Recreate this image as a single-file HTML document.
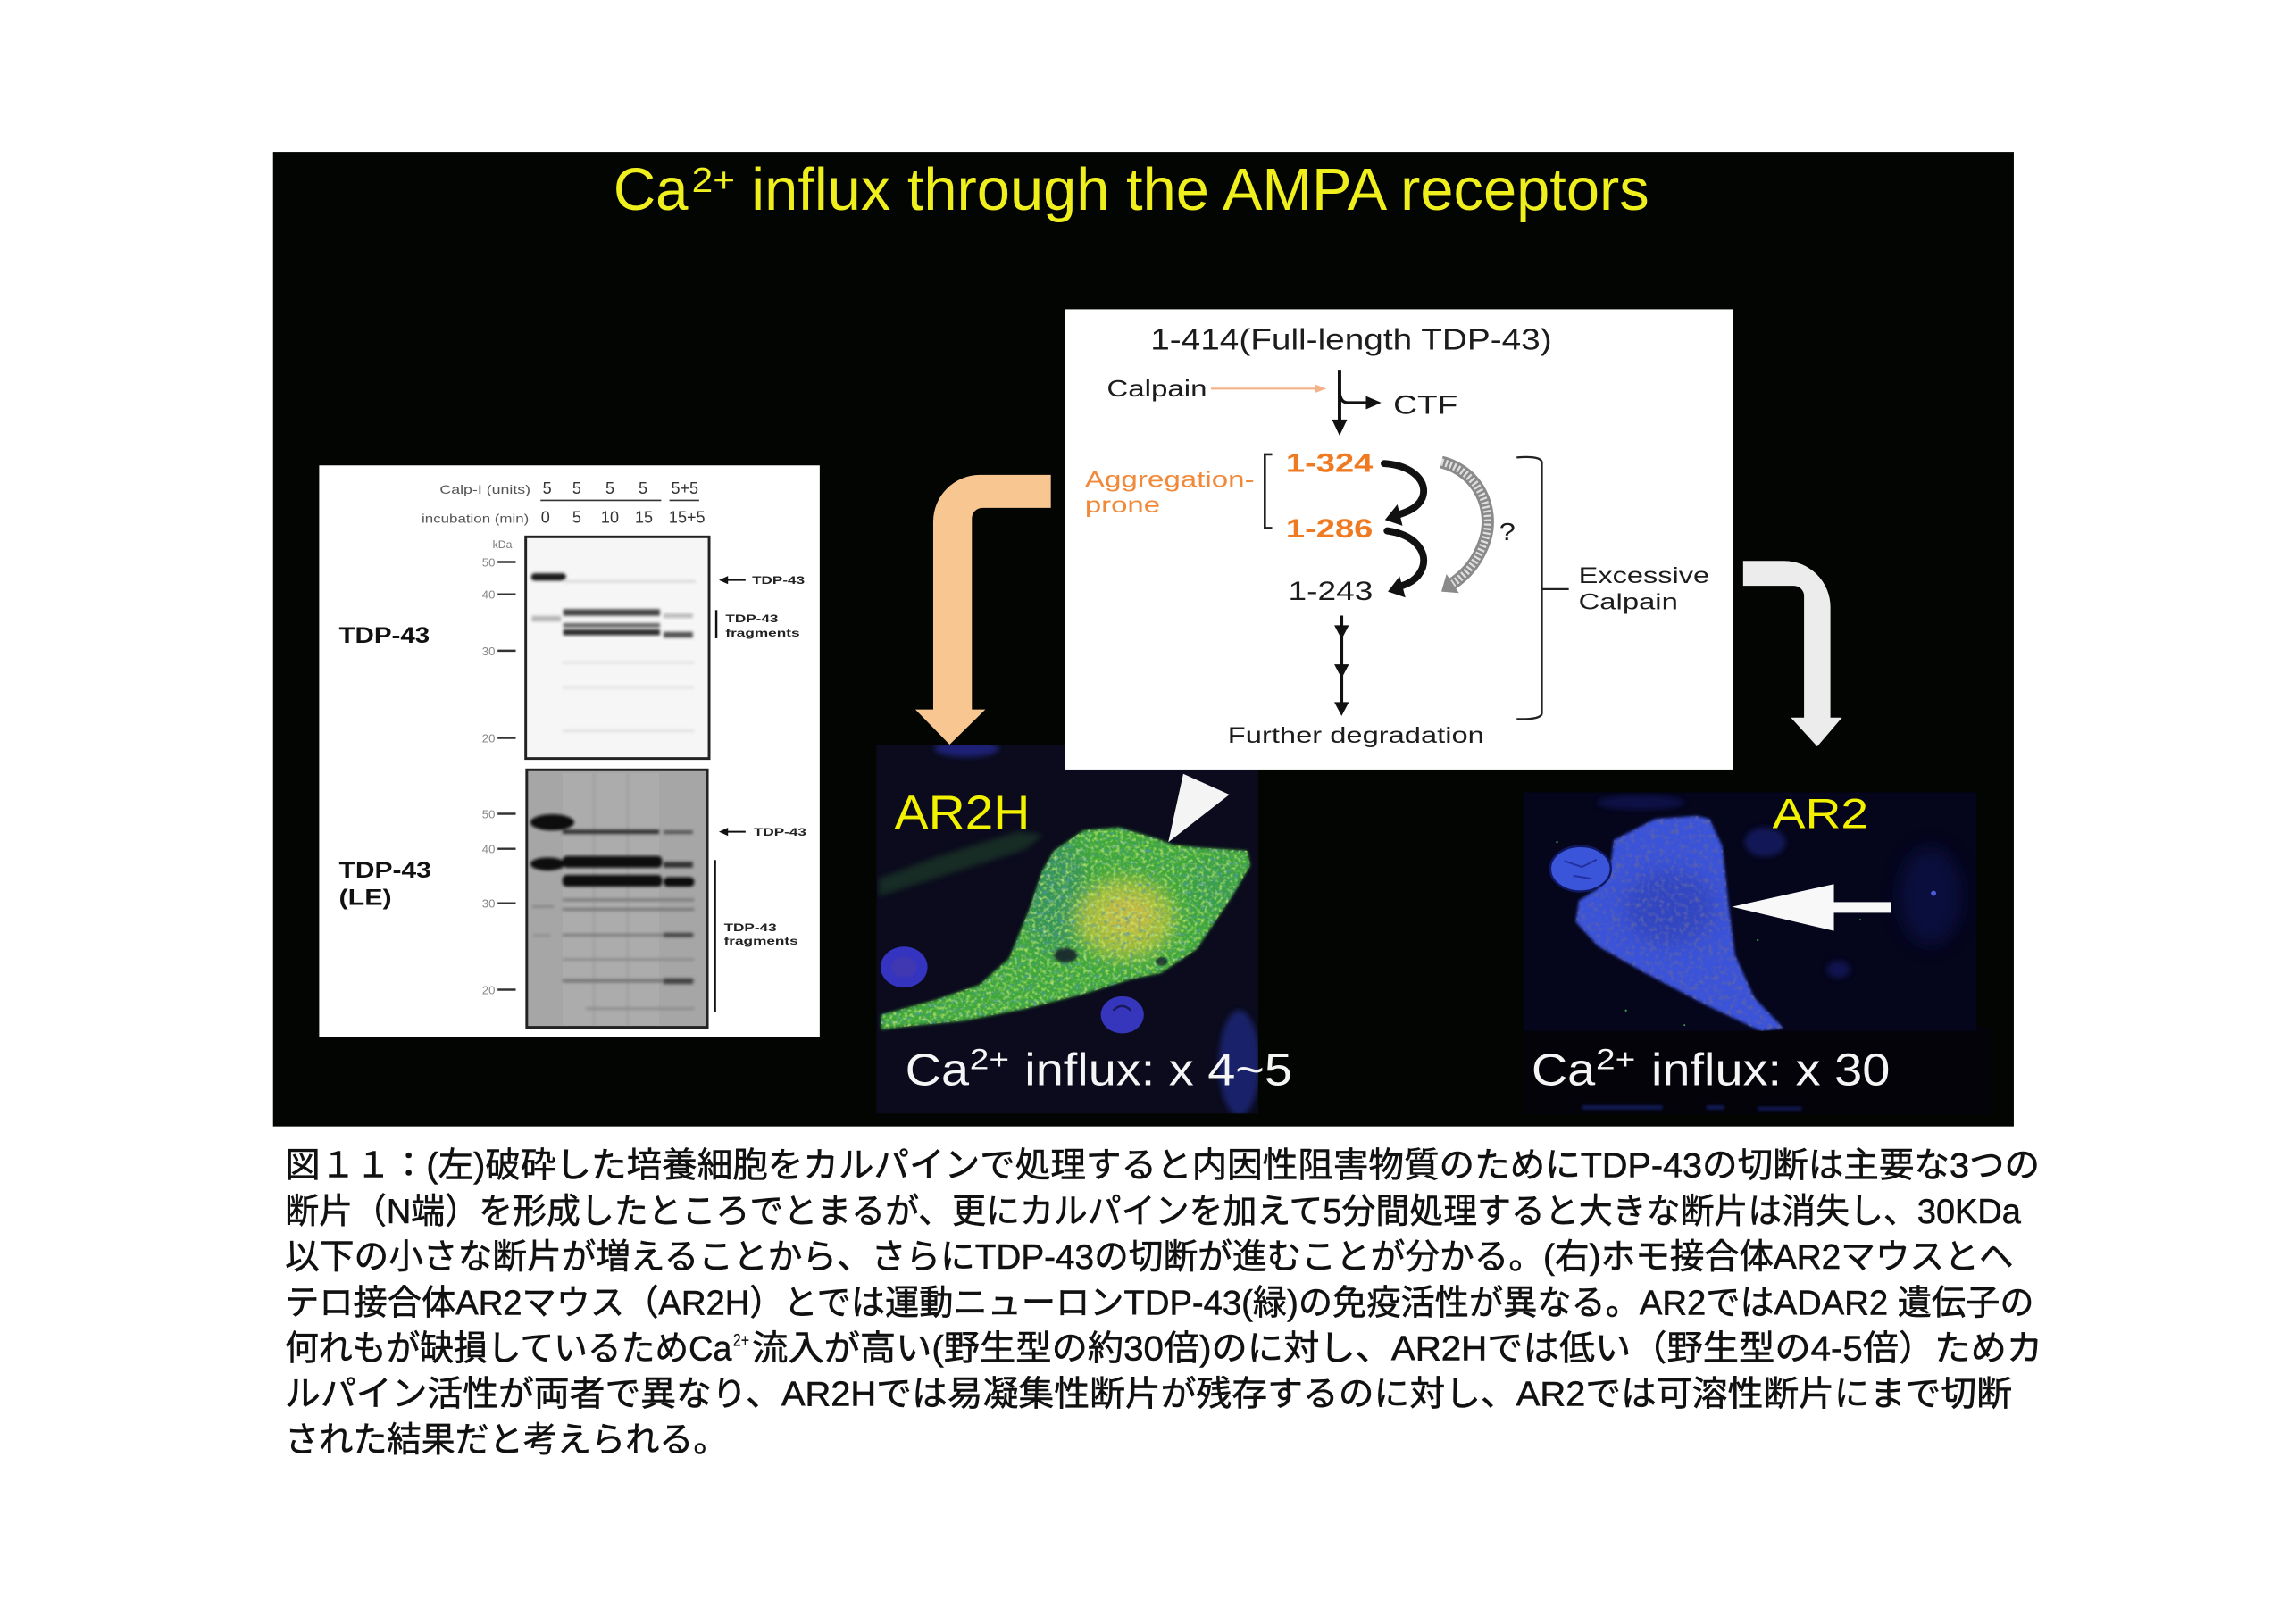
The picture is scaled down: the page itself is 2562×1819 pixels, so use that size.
<!DOCTYPE html>
<html><head><meta charset="utf-8">
<style>
html,body{margin:0;padding:0;background:#fff;overflow:hidden;}
svg{display:block;}
</style></head><body>
<svg width="2562" height="1819" viewBox="0 0 1562 1109" preserveAspectRatio="none" xmlns="http://www.w3.org/2000/svg" font-family="'Liberation Sans', Arial, sans-serif">
<defs>
<filter id="bl05" x="-20%" y="-50%" width="140%" height="200%"><feGaussianBlur stdDeviation="0.5"/></filter>
<filter id="bl1" x="-20%" y="-60%" width="140%" height="220%"><feGaussianBlur stdDeviation="1"/></filter>
<filter id="bl2" x="-30%" y="-30%" width="160%" height="160%"><feGaussianBlur stdDeviation="2"/></filter>
<filter id="bl5" x="-50%" y="-50%" width="200%" height="200%"><feGaussianBlur stdDeviation="6"/></filter>
<filter id="ngreen" x="0" y="0" width="100%" height="100%">
  <feTurbulence type="fractalNoise" baseFrequency="0.4" numOctaves="2" seed="5"/>
  <feColorMatrix type="matrix" values="0 0 0 0 0.62  0 0 0 0 0.88  0 0 0 0 0.18  2.4 0 0 0 -1.1"/>
</filter>
<filter id="ncyan" x="0" y="0" width="100%" height="100%">
  <feTurbulence type="fractalNoise" baseFrequency="0.35" numOctaves="2" seed="11"/>
  <feColorMatrix type="matrix" values="0 0 0 0 0.08  0 0 0 0 0.3  0 0 0 0 0.45  2.6 0 0 0 -1.3"/>
</filter>
<filter id="ndark" x="0" y="0" width="100%" height="100%">
  <feTurbulence type="fractalNoise" baseFrequency="0.3" numOctaves="2" seed="3"/>
  <feColorMatrix type="matrix" values="0 0 0 0 0.1  0 0 0 0 0.12  0 0 0 0 0.42  2.8 0 0 0 -1.35"/>
</filter>
<clipPath id="cellG"><path d="M601.6,693 L638,683 L668.6,672.6 L689,654.3 L703.2,619.8 L711.3,595.4 L719.4,581.2 L739.7,567 L764,565 L790.5,573 L800.7,577 L821,579 L851.5,581 L853.5,591 L841.3,611.7 L817,648 L792.6,664.5 L772.3,668.6 L739.7,678.7 L699,689 L658.5,697 L617.8,701 L601.6,703 Z"/></clipPath>
<clipPath id="cellB"><path d="M1101.8,573.7 L1130,559.2 L1158.4,557.2 L1167,559.2 L1175.8,577.8 L1180.2,619.2 L1184.5,652.3 L1197.6,681.2 L1217.2,701.9 L1202,704 L1167,687.4 L1123.6,664.7 L1090.9,646 L1075.7,629.5 L1077.9,615 L1090.9,606.8 L1099.6,590.2 Z"/></clipPath>
<clipPath id="imgA"><rect x="598.4" y="508.5" width="260.6" height="252"/></clipPath>
<clipPath id="imgB"><rect x="1040.5" y="541" width="309" height="163"/></clipPath>
</defs>

<rect x="0" y="0" width="1562" height="1109" fill="#ffffff"/>
<!-- black panel -->
<rect x="186.4" y="103.7" width="1188.4" height="665.5" fill="#030503"/>

<!-- title -->
<g fill="#f0ef1e">
<text x="418.8" y="143.3" font-size="41" textLength="51" lengthAdjust="spacingAndGlyphs">Ca</text>
<text x="472.3" y="131" font-size="24" textLength="29.5" lengthAdjust="spacingAndGlyphs">2+</text>
<text x="512.9" y="143.3" font-size="41" textLength="613" lengthAdjust="spacingAndGlyphs">influx through the AMPA receptors</text>
</g>

<!-- ============ Western blot ============ -->
<rect x="217.9" y="317.8" width="341.7" height="390.1" fill="#ffffff"/>
<g fill="#555">
<text x="300.2" y="337.1" font-size="8.5" textLength="62" lengthAdjust="spacingAndGlyphs">Calp-I (units)</text>
<text x="287.8" y="357" font-size="8.5" textLength="73.3" lengthAdjust="spacingAndGlyphs">incubation (min)</text>
</g>
<g fill="#333" font-size="11" text-anchor="middle">
<text x="373.5" y="337.1">5</text><text x="393.8" y="337.1">5</text><text x="416.4" y="337.1">5</text><text x="439" y="337.1">5</text><text x="467.5" y="337.1">5+5</text>
<text x="372.4" y="357">0</text><text x="393.8" y="357">5</text><text x="416.4" y="357">10</text><text x="439.6" y="357">15</text><text x="469" y="357">15+5</text>
</g>
<line x1="369" y1="341.7" x2="451.4" y2="341.7" stroke="#333" stroke-width="1"/>
<line x1="457" y1="341.7" x2="477.3" y2="341.7" stroke="#333" stroke-width="1"/>

<!-- top blot -->
<rect x="358.9" y="366.6" width="125.2" height="151.4" fill="#f6f6f6" stroke="#222" stroke-width="1.8"/>
<text x="336.3" y="374.3" font-size="7.5" fill="#777">kDa</text>
<g fill="#888" font-size="8" text-anchor="end">
<text x="338" y="386.8">50</text><text x="338" y="408.9">40</text><text x="338" y="447.4">30</text><text x="338" y="506.9">20</text>
</g>
<g stroke="#333" stroke-width="1.5">
<line x1="339.7" y1="383.8" x2="352.1" y2="383.8"/><line x1="339.7" y1="405.9" x2="352.1" y2="405.9"/>
<line x1="339.7" y1="444.4" x2="352.1" y2="444.4"/><line x1="339.7" y1="503.9" x2="352.1" y2="503.9"/>
</g>
<g filter="url(#bl1)">
<rect x="362.5" y="391.5" width="24" height="5" rx="2.5" fill="#1a1a1a"/>
<rect x="363" y="420.5" width="20" height="4" fill="#b8b8b8"/>
<rect x="385" y="396" width="90" height="2" fill="#dcdcdc"/>
<rect x="384.5" y="416" width="66" height="4.5" fill="#444"/>
<rect x="384.5" y="425.5" width="66" height="3" fill="#666"/>
<rect x="384.5" y="429.8" width="66" height="4" fill="#2a2a2a"/>
<rect x="453" y="419" width="20" height="3" fill="#bbb"/>
<rect x="453" y="431.5" width="20" height="4" fill="#555"/>
<rect x="384" y="451.5" width="90" height="2" fill="#e4e4e4"/>
<rect x="384" y="468.5" width="90" height="2" fill="#e4e4e4"/>
<rect x="384" y="498" width="90" height="2" fill="#e2e2e2"/>
</g>
<line x1="495" y1="396.1" x2="509" y2="396.1" stroke="#111" stroke-width="1.2"/>
<polygon points="490.8,396.1 497,393.3 497,398.9" fill="#111"/>
<g fill="#222" font-size="7.5" font-weight="bold">
<text x="513.4" y="398.7" textLength="36" lengthAdjust="spacingAndGlyphs">TDP-43</text>
<text x="495.3" y="424.9" textLength="36" lengthAdjust="spacingAndGlyphs">TDP-43</text>
<text x="495.3" y="434.6" textLength="50.7" lengthAdjust="spacingAndGlyphs">fragments</text>
</g>
<line x1="489" y1="416.6" x2="489" y2="435.9" stroke="#111" stroke-width="1.5"/>
<text x="231.4" y="439" font-size="15" font-weight="bold" fill="#111" textLength="62" lengthAdjust="spacingAndGlyphs">TDP-43</text>

<!-- bottom blot -->
<rect x="359.6" y="525.7" width="123.3" height="175.8" fill="#a6a6a6" stroke="#222" stroke-width="1.8"/>
<g fill="#b0b0b0" opacity="0.6">
<rect x="384" y="528" width="20" height="172"/><rect x="407" y="528" width="20" height="172"/><rect x="430" y="528" width="20" height="172"/>
</g>
<g fill="#888" font-size="8" text-anchor="end">
<text x="338" y="558.7">50</text><text x="338" y="582.6">40</text><text x="338" y="619.8">30</text><text x="338" y="678.8">20</text>
</g>
<g stroke="#333" stroke-width="1.5">
<line x1="339.7" y1="555.7" x2="352.1" y2="555.7"/><line x1="339.7" y1="579.6" x2="352.1" y2="579.6"/>
<line x1="339.7" y1="616.8" x2="352.1" y2="616.8"/><line x1="339.7" y1="675.8" x2="352.1" y2="675.8"/>
</g>
<g filter="url(#bl1)">
<ellipse cx="377" cy="561.6" rx="15" ry="5.5" fill="#0a0a0a"/>
<rect x="384" y="566.5" width="66" height="3" fill="#333"/>
<rect x="453" y="567" width="20" height="2.5" fill="#555"/>
<ellipse cx="374" cy="590" rx="12" ry="4.5" fill="#111"/>
<rect x="384" y="584.5" width="68" height="8" rx="3" fill="#080808"/>
<rect x="384" y="597.5" width="68" height="8" rx="3" fill="#080808"/>
<rect x="453" y="588.5" width="20" height="4" fill="#333"/>
<rect x="453" y="599" width="21" height="6.5" rx="3" fill="#111"/>
<rect x="384" y="613.5" width="90" height="2" fill="#7c7c7c"/>
<rect x="384" y="620" width="90" height="2" fill="#777"/>
<rect x="384" y="637.5" width="90" height="2" fill="#7e7e7e"/>
<rect x="453" y="637" width="20" height="3" fill="#444"/>
<rect x="384" y="654.5" width="90" height="1.5" fill="#888"/>
<rect x="384" y="668.5" width="90" height="2.5" fill="#777"/>
<rect x="453" y="668" width="20" height="4" fill="#444"/>
<rect x="400" y="688" width="74" height="1.5" fill="#888"/>
<rect x="363" y="618" width="15" height="2" fill="#8a8a8a"/>
<rect x="364" y="638" width="12" height="1.5" fill="#8c8c8c"/>
</g>
<line x1="495" y1="568" x2="509" y2="568" stroke="#111" stroke-width="1.2"/>
<polygon points="490.8,568 497,565.2 497,570.8" fill="#111"/>
<g fill="#222" font-size="7.5" font-weight="bold">
<text x="514.5" y="570.6" textLength="36" lengthAdjust="spacingAndGlyphs">TDP-43</text>
<text x="494.2" y="636" textLength="36" lengthAdjust="spacingAndGlyphs">TDP-43</text>
<text x="494.2" y="645" textLength="50.7" lengthAdjust="spacingAndGlyphs">fragments</text>
</g>
<line x1="488.1" y1="587.3" x2="488.1" y2="691.2" stroke="#111" stroke-width="1.5"/>
<g fill="#111" font-size="15" font-weight="bold">
<text x="231.4" y="599.3" textLength="63" lengthAdjust="spacingAndGlyphs">TDP-43</text>
<text x="231.4" y="618" textLength="36" lengthAdjust="spacingAndGlyphs">(LE)</text>
</g>

<!-- ============ AR2H image ============ -->
<g clip-path="url(#imgA)">
<rect x="598.4" y="508.5" width="260.6" height="252" fill="#0b0b1d"/>
<ellipse cx="660" cy="511" rx="22" ry="6" fill="#23288a" opacity="0.8" filter="url(#bl2)"/>
<path d="M600,600 L640,585 L695,568 L712,570 L700,580 L650,596 L600,612 Z" fill="#2f6a35" opacity="0.35" filter="url(#bl2)"/>
<ellipse cx="846" cy="726" rx="14" ry="36" fill="#1f2577" opacity="0.85" filter="url(#bl2)"/>
<ellipse cx="617.2" cy="660.4" rx="16" ry="14" fill="#3434c0"/>
<ellipse cx="617.2" cy="660.4" rx="9" ry="7" fill="#4a3aa8" opacity="0.6" filter="url(#bl1)"/>
<ellipse cx="766.2" cy="693" rx="14.7" ry="12.7" fill="#3636bc"/>
<path d="M760,690 Q766,684 772,690" stroke="#1a1a60" stroke-width="1.5" fill="none"/>
<path d="M601.6,693 L638,683 L668.6,672.6 L689,654.3 L703.2,619.8 L711.3,595.4 L719.4,581.2 L739.7,567 L764,565 L790.5,573 L800.7,577 L821,579 L851.5,581 L853.5,591 L841.3,611.7 L817,648 L792.6,664.5 L772.3,668.6 L739.7,678.7 L699,689 L658.5,697 L617.8,701 L601.6,703 Z" fill="#40a83a" filter="url(#bl1)"/>
<g clip-path="url(#cellG)">
<ellipse cx="720" cy="610" rx="22" ry="40" fill="#2e7f78" opacity="0.45" filter="url(#bl5)"/>
<ellipse cx="830" cy="605" rx="20" ry="18" fill="#2f8a6a" opacity="0.3" filter="url(#bl5)"/>
<ellipse cx="768" cy="627" rx="34" ry="27" fill="#c8c23a" opacity="0.8" filter="url(#bl5)"/>
<ellipse cx="770" cy="625" rx="16" ry="12" fill="#d0b848" opacity="0.55" filter="url(#bl2)"/>
<rect x="598" y="560" width="262" height="150" fill="#000" filter="url(#ncyan)" opacity="0.8"/>
<rect x="598" y="560" width="262" height="150" fill="#000" filter="url(#ngreen)" opacity="0.85"/>
</g>
<ellipse cx="727.5" cy="652.3" rx="8" ry="5" fill="#12222c" opacity="0.9" filter="url(#bl1)"/>
<ellipse cx="793" cy="656.5" rx="4" ry="3" fill="#18282e" opacity="0.8" filter="url(#bl05)"/>
<polygon points="807.8,528.4 839.3,542.6 797.6,575.1" fill="#f4f4f4"/>
</g>
<text x="610.7" y="566" font-size="33" fill="#f2f200" textLength="92.5" lengthAdjust="spacingAndGlyphs">AR2H</text>
<g fill="#f5f5f5">
<text x="618" y="741" font-size="31" textLength="43.5" lengthAdjust="spacingAndGlyphs">Ca</text>
<text x="662" y="730" font-size="20" textLength="27" lengthAdjust="spacingAndGlyphs">2+</text>
<text x="699.5" y="741" font-size="31" textLength="182.7" lengthAdjust="spacingAndGlyphs">influx: x 4~5</text>
</g>

<!-- ============ AR2 image ============ -->
<rect x="1040.5" y="701" width="318" height="60" fill="#030309"/>
<g fill="#1e2a8a" opacity="0.7" filter="url(#bl1)">
<rect x="1080" y="755" width="55" height="2.5"/><rect x="1165" y="755" width="12" height="2.5"/><rect x="1200" y="756" width="30" height="2"/>
</g>
<g clip-path="url(#imgB)">
<rect x="1040.5" y="541" width="309" height="163" fill="#05051b"/>
<ellipse cx="1205" cy="575" rx="14" ry="10" fill="#1c2680" opacity="0.6" filter="url(#bl2)"/>
<ellipse cx="1318" cy="612" rx="22" ry="34" fill="#0f1658" opacity="0.55" filter="url(#bl5)"/>
<ellipse cx="1255" cy="662" rx="8" ry="6" fill="#1a2480" opacity="0.5" filter="url(#bl2)"/>
<ellipse cx="1120" cy="548" rx="30" ry="5" fill="#141c70" opacity="0.5" filter="url(#bl2)"/>
<circle cx="1320" cy="610" r="1.8" fill="#4a5ad8"/>
<path d="M1101.8,573.7 L1130,559.2 L1158.4,557.2 L1167,559.2 L1175.8,577.8 L1180.2,619.2 L1184.5,652.3 L1197.6,681.2 L1217.2,701.9 L1202,704 L1167,687.4 L1123.6,664.7 L1090.9,646 L1075.7,629.5 L1077.9,615 L1090.9,606.8 L1099.6,590.2 Z" fill="#3a52d8" filter="url(#bl1)"/>
<g clip-path="url(#cellB)">
<ellipse cx="1140" cy="620" rx="30" ry="25" fill="#2a3aaa" opacity="0.5" filter="url(#bl5)"/>
<rect x="1070" y="550" width="150" height="160" fill="#000" filter="url(#ndark)"/>
</g>
<ellipse cx="1079" cy="593.3" rx="20.7" ry="15.5" fill="#3b55da" stroke="#101860" stroke-width="1.5"/>
<path d="M1068,588 L1080,592 L1090,587 M1074,598 L1086,600" stroke="#2230a0" stroke-width="1.2" fill="none"/>
<g fill="#3aa84a">
<circle cx="1063" cy="575" r="0.7"/><circle cx="1110" cy="690" r="0.7"/><circle cx="1200" cy="642" r="0.7"/><circle cx="1270" cy="628" r="0.6"/><circle cx="1150" cy="700" r="0.6"/>
</g>
<polygon points="1182.4,619.2 1252,603.7 1252,616 1291.2,616 1291.2,623.3 1252,623.3 1252,635.7" fill="#f8f8f8"/>
</g>
<text x="1210" y="565.4" font-size="29" fill="#f2f200" textLength="65.5" lengthAdjust="spacingAndGlyphs">AR2</text>
<g fill="#f5f5f5">
<text x="1045.5" y="741" font-size="31" textLength="43.5" lengthAdjust="spacingAndGlyphs">Ca</text>
<text x="1089.5" y="730" font-size="20" textLength="27" lengthAdjust="spacingAndGlyphs">2+</text>
<text x="1127.3" y="741" font-size="31" textLength="163" lengthAdjust="spacingAndGlyphs">influx: x 30</text>
</g>

<!-- ============ curved arrows ============ -->
<path d="M717.4,324.3 H669 A31.9,31.9 0 0 0 637.1,356.2 V484.5 H624.9 L648.3,508.5 L672.7,484.5 H663.5 V354 A7.2,7.2 0 0 1 670.7,346.8 H717.4 Z" fill="#f8c690"/>
<path d="M1190,383 H1218 A31.6,31.6 0 0 1 1249.6,414.6 V490 H1257.5 L1240.6,509.8 L1222.6,490 H1231.6 V407 A7,7 0 0 0 1224.6,400 H1190 Z" fill="#ececec"/>

<!-- ============ flow box ============ -->
<rect x="726.8" y="211.2" width="456" height="314.3" fill="#ffffff"/>
<g fill="#1c1c1c">
<text x="785.4" y="238.6" font-size="20.5" textLength="274" lengthAdjust="spacingAndGlyphs">1-414(Full-length TDP-43)</text>
<text x="755.6" y="270.7" font-size="16" textLength="68.4" lengthAdjust="spacingAndGlyphs">Calpain</text>
<text x="951.2" y="282.5" font-size="18" textLength="44" lengthAdjust="spacingAndGlyphs">CTF</text>
<text x="879.5" y="409.8" font-size="18" textLength="57.8" lengthAdjust="spacingAndGlyphs">1-243</text>
<text x="1023.5" y="368.8" font-size="17" textLength="11" lengthAdjust="spacingAndGlyphs">?</text>
<text x="1077.7" y="398" font-size="15.5" textLength="89.3" lengthAdjust="spacingAndGlyphs">Excessive</text>
<text x="1077.7" y="416.2" font-size="15.5" textLength="67.8" lengthAdjust="spacingAndGlyphs">Calpain</text>
<text x="838.2" y="507.1" font-size="15" textLength="175" lengthAdjust="spacingAndGlyphs">Further degradation</text>
</g>
<g fill="#f07a22" font-size="18" font-weight="bold">
<text x="877.9" y="322.1" textLength="59.4" lengthAdjust="spacingAndGlyphs">1-324</text>
<text x="877.9" y="367" textLength="59.4" lengthAdjust="spacingAndGlyphs">1-286</text>
</g>
<g fill="#f0893a" font-size="15.5">
<text x="740.7" y="332.7" textLength="115.7" lengthAdjust="spacingAndGlyphs">Aggregation-</text>
<text x="740.7" y="349.9" textLength="51.3" lengthAdjust="spacingAndGlyphs">prone</text>
</g>
<!-- orange calpain arrow -->
<line x1="826.7" y1="265.4" x2="899" y2="265.4" stroke="#f6b088" stroke-width="1.3"/>
<polygon points="898,262.6 905.5,265.4 898,268.2" fill="#f6b088"/>
<!-- main arrow -->
<line x1="914.5" y1="252.5" x2="914.5" y2="289" stroke="#111" stroke-width="2.4"/>
<polygon points="909.3,286.5 919.7,286.5 914.5,297.5" fill="#111"/>
<path d="M914.5,266 Q914.5,275 920,275 L935,275" stroke="#111" stroke-width="2" fill="none"/>
<polygon points="932.5,270.5 943,275 932.5,279.5" fill="#111"/>
<!-- left bracket -->
<path d="M868.5,310.3 H863.5 V360.6 H868.5" stroke="#222" stroke-width="1.6" fill="none"/>
<!-- curved black arrows -->
<path d="M945,316.5 C966,318 975,330 971,340 C968,347 960,350 953,352" stroke="#111" stroke-width="4.8" fill="none" stroke-linecap="round"/>
<polygon points="945.5,355 954,344.5 957.5,359" fill="#111"/>
<path d="M947,362.5 C966,365 975,377 971,388 C968,396 961,399 954,401" stroke="#111" stroke-width="4.8" fill="none" stroke-linecap="round"/>
<polygon points="947.5,404 955.5,393.5 959.5,408" fill="#111"/>
<!-- gray hatched arrow -->
<path d="M984,315.5 C1010,322 1020,348 1014,368 C1009,384 1000,393 991,399" stroke="#8a8a8a" stroke-width="8.5" fill="none"/>
<path d="M984,315.5 C1010,322 1020,348 1014,368 C1009,384 1000,393 991,399" stroke="#e0e0e0" stroke-width="5" fill="none" stroke-dasharray="1.4 1.6"/>
<polygon points="984,404 987.5,392 996,405" fill="#8a8a8a"/>
<!-- right bracket -->
<path d="M1035.4,312.4 Q1052.6,311 1052.6,316 V487 Q1052.6,491.5 1035.4,491" stroke="#222" stroke-width="1.4" fill="none"/>
<line x1="1052.6" y1="402.3" x2="1071" y2="402.3" stroke="#222" stroke-width="1.4"/>
<!-- down arrows -->
<line x1="915.9" y1="420.4" x2="915.9" y2="484" stroke="#111" stroke-width="2.2"/>
<polygon points="910.9,427 920.9,427 915.9,436.5" fill="#111"/>
<polygon points="910.9,453.7 920.9,453.7 915.9,463.2" fill="#111"/>
<polygon points="910.9,479.4 920.9,479.4 915.9,488.9" fill="#111"/>

<!-- ============ caption ============ -->
<g fill="#111" stroke="#111" stroke-width="0.35" font-size="24" font-family="'Liberation Sans', 'Noto Sans CJK JP', sans-serif">
<text x="194.6" y="804" textLength="1198" lengthAdjust="spacingAndGlyphs">図１１：(左)破砕した培養細胞をカルパインで処理すると内因性阻害物質のためにTDP-43の切断は主要な3つの</text>
<text x="194.6" y="835.2" textLength="1185" lengthAdjust="spacingAndGlyphs">断片（N端）を形成したところでとまるが、更にカルパインを加えて5分間処理すると大きな断片は消失し、30KDa</text>
<text x="194.6" y="866.4" textLength="1180" lengthAdjust="spacingAndGlyphs">以下の小さな断片が増えることから、さらにTDP-43の切断が進むことが分かる。(右)ホモ接合体AR2マウスとヘ</text>
<text x="194.6" y="897.6" textLength="1194" lengthAdjust="spacingAndGlyphs">テロ接合体AR2マウス（AR2H）とでは運動ニューロンTDP-43(緑)の免疫活性が異なる。AR2ではADAR2 遺伝子の</text>
<text x="194.6" y="928.8" textLength="305" lengthAdjust="spacingAndGlyphs">何れもが缺損しているためCa</text>
<text x="500.5" y="919" font-size="12" stroke-width="0.15" textLength="11" lengthAdjust="spacingAndGlyphs">2+</text>
<text x="513.4" y="928.8" textLength="881" lengthAdjust="spacingAndGlyphs">流入が高い(野生型の約30倍)のに対し、AR2Hでは低い（野生型の4-5倍）ためカ</text>
<text x="194.6" y="960" textLength="1179" lengthAdjust="spacingAndGlyphs">ルパイン活性が両者で異なり、AR2Hでは易凝集性断片が残存するのに対し、AR2では可溶性断片にまで切断</text>
<text x="194.6" y="991.2" textLength="302" lengthAdjust="spacingAndGlyphs">された結果だと考えられる。</text>
</g>
</svg>
</body></html>
